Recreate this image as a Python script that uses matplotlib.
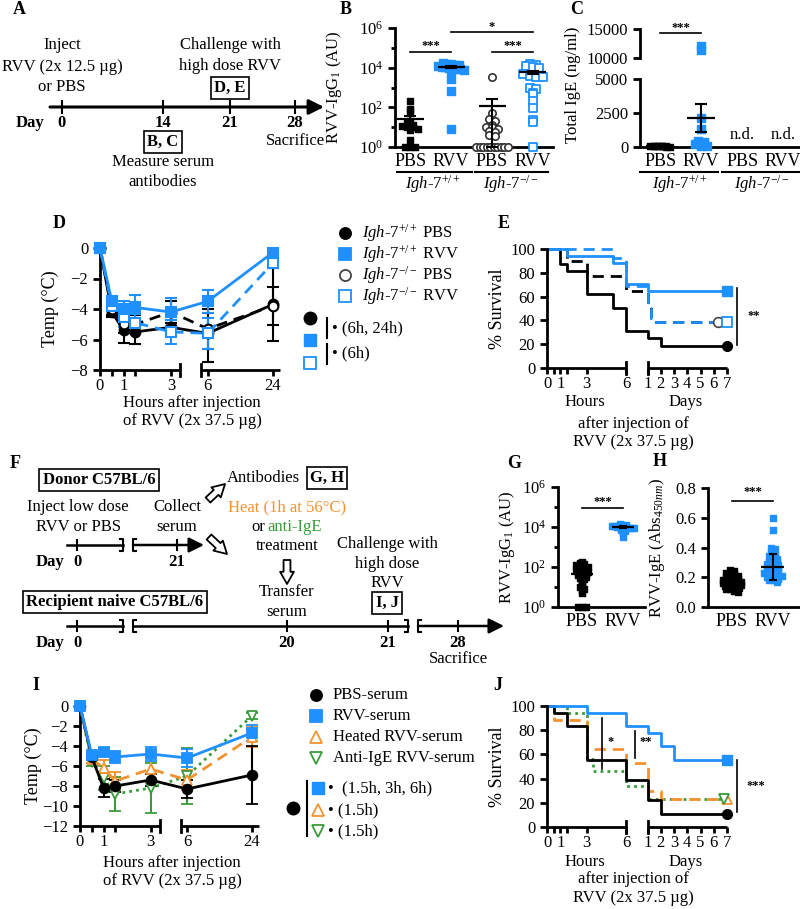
import numpy as np
import matplotlib
matplotlib.use('Agg')
import matplotlib.pyplot as plt

plt.rcParams['font.family'] = ['Liberation Serif', 'DejaVu Sans']
plt.rcParams['mathtext.fontset'] = 'custom'
plt.rcParams['mathtext.rm'] = 'Liberation Serif'
plt.rcParams['mathtext.it'] = 'Liberation Serif:italic'
plt.rcParams['mathtext.bf'] = 'Liberation Serif:bold'
plt.rcParams['font.size'] = 12
plt.rcParams['axes.linewidth'] = 2
plt.rcParams['xtick.major.width'] = 2
plt.rcParams['ytick.major.width'] = 2
plt.rcParams['xtick.major.size'] = 4
plt.rcParams['ytick.major.size'] = 5
plt.rcParams['ytick.minor.width'] = 2
plt.rcParams['ytick.minor.size'] = 3

BLUE = '#1E90FF'
ORANGE = '#F5922F'
GREEN = '#3A9B3A'
WT = r'$\mathit{Igh}$-$\mathit{7}^{+/+}$'
KO = r'$\mathit{Igh}$-$\mathit{7}^{-/-}$'

# ---------------- data ----------------
# B: RVV-IgG1 (AU)
b_groups = ['PBS', 'RVV', 'PBS', 'RVV']
b_wt_pbs = [200, 80, 65, 20, 16, 13, 12, 10, 10, 8, 7, 2.2, 1, 1, 1]
b_wt_rvv = [18000, 16000, 15000, 14000, 13000, 12000, 11000, 10500, 10000,
            9500, 9000, 8500, 8000, 7500, 2600, 630, 8]
b_ko_pbs = [3300, 54, 26, 20, 13, 10, 10, 8, 6.3, 5.6, 4, 3.5,
            1, 1, 1, 1, 1, 1, 1, 1, 1, 1]
b_ko_rvv = [16000, 14000, 12500, 11000, 10000, 5000, 4000, 3500, 3200, 900,
            800, 510, 480, 200, 90, 23, 18, 1]
b_mean = [25, 10700, 118, 5900]
b_sem = [11, 1000, 140, 1100]

# C: total IgE (ng/ml)
c_groups = ['PBS', 'RVV', 'PBS', 'RVV']
c_wt_pbs = [110, 100, 90, 80, 70, 60, 50, 40, 30, 20]
c_wt_rvv = [12100, 11400, 2100, 1300, 450, 380, 320, 260, 200, 150, 100, 60]
c_mean = [70, 2130]
c_sem = [10, 1000]

# D: temperature after challenge
hours = [0, 0.5, 1, 1.5, 3, 6, 24]
d_wt_pbs = [0, -4.2, -5.4, -5.5, -5.2, -5.6, -3.7]
d_wt_pbs_err = [0, 0.3, 0.8, 0.8, 0.5, 1.9, 2.4]
d_wt_rvv = [0, -3.5, -4.0, -3.9, -4.2, -3.5, -0.3]
d_wt_rvv_err = [0, 0.3, 0.5, 0.8, 0.9, 0.75, 0.2]
d_ko_pbs = [0, -4.0, -5.0, -5.0, -4.2, -5.3, -3.8]
d_ko_pbs_err = [0, 0.4, 0.6, 0.6, 0.7, 1.3, 1.25]
d_ko_rvv = [0, -3.8, -4.5, -4.9, -5.5, -5.6, -1.0]
d_ko_rvv_err = [0, 0.3, 0.7, 0.6, 0.8, 1.0, 0.3]

# E: survival (time in hours)
e_wt_pbs_t = [0, 1, 1.5, 3, 5, 6, 24, 48, 168]
e_wt_pbs_s = [100, 87.5, 81.25, 62.5, 50, 31.25, 25, 18.75, 18.75]
e_ko_pbs_t = [0, 1.5, 3, 6, 24, 30, 36, 151]
e_ko_pbs_s = [100, 90.3, 77.4, 64.5, 51.6, 41.9, 38.7, 38.7]
e_wt_rvv_t = [0, 1.5, 5, 6, 24, 168]
e_wt_rvv_s = [100, 94.1, 88.2, 70.6, 64.7, 64.7]
e_ko_rvv_t = [0, 5, 6, 24, 30, 36, 168]
e_ko_rvv_s = [100, 92.3, 69.2, 50, 42.3, 38.5, 38.5]

# G / H: donor serum antibodies
g_groups = ['PBS', 'RVV']
g_pbs = [180, 160, 140, 125, 110, 100, 100, 90, 80, 80, 70, 63, 63, 56, 50, 50,
         45, 40, 35, 32, 28, 25, 20, 16, 12, 10, 8, 6.3, 5, 1, 1, 1]
g_rvv = [14000, 12500, 12500, 11000, 11000, 10000, 10000, 10000, 10000, 9000,
         9000, 9000, 8000, 8000, 7000, 6300, 5000, 3200]
g_mean = [45, 10000]
g_sem = [15, 600]
h_pbs = [0.25, 0.24, 0.23, 0.22, 0.22, 0.21, 0.2, 0.2, 0.19, 0.19, 0.18, 0.18,
         0.18, 0.17, 0.17, 0.17, 0.16, 0.16, 0.16, 0.15, 0.15, 0.15, 0.14, 0.14,
         0.14, 0.13, 0.13, 0.12, 0.12, 0.11, 0.1]
h_rvv = [0.6, 0.52, 0.4, 0.39, 0.38, 0.36, 0.35, 0.34, 0.33, 0.32, 0.31, 0.3,
         0.3, 0.29, 0.29, 0.28, 0.28, 0.27, 0.27, 0.26, 0.26, 0.25, 0.25, 0.24,
         0.24, 0.23, 0.23, 0.22, 0.22, 0.21, 0.21, 0.2, 0.2, 0.19, 0.19, 0.18,
         0.18, 0.17]
h_mean = [0.165, 0.27]
h_err = [0.025, 0.088]

# I: temperature after serum transfer
i_pbs = [0, -5.1, -8.2, -8.0, -7.4, -8.3, -6.9]
i_pbs_err = [0, 0.3, 0.9, 0.6, 0.6, 0.9, 2.9]
i_rvv = [0, -4.9, -4.6, -5.1, -4.8, -5.2, -2.7]
i_rvv_err = [0, 0.3, 0.4, 0.6, 0.7, 0.9, 0.8]
i_heat = [0, -5.3, -6.2, -7.5, -6.3, -7.4, -3.1]
i_heat_err = [0, 0.4, 0.8, 0.9, 1.3, 1.0, 1.0]
i_anti = [0, -5.6, -7.2, -8.8, -8.2, -7.0, -1.0]
i_anti_err = [0, 0.4, 1.2, 1.7, 2.5, 2.8, 0.3]

# J: survival after serum transfer
j_pbs_t = [0, 0.5, 1.5, 3, 6, 24, 48, 168]
j_pbs_s = [100, 94.4, 83.3, 55.6, 38.9, 22.2, 11.1, 11.1]
j_rvv_t = [0, 3, 6, 24, 48, 72, 168]
j_rvv_s = [100, 94.4, 83.3, 77.8, 66.7, 55.6, 55.6]
j_heat_t = [0, 0.5, 3, 6, 24, 48, 168]
j_heat_s = [100, 88.2, 64.7, 52.9, 29.4, 23.5, 23.5]
j_anti_t = [0, 1.5, 3, 3.5, 6, 24, 163]
j_anti_s = [100, 94, 56, 46, 34, 23, 23]

# ---------------- helpers ----------------
W, H = 800, 909
fig = plt.figure(figsize=(8, 9.09), dpi=100)


def px_box(x0, y0, x1, y1):
    return [x0 / W, 1 - y1 / H, (x1 - x0) / W, (y1 - y0) / H]


def clean(ax):
    ax.spines['top'].set_visible(False)
    ax.spines['right'].set_visible(False)
    ax.tick_params(labelsize=12)


def dotplot(ax, vals, pos, logy, step, maxw, binw, **kw):
    v = np.asarray(vals, float)
    yv = np.log10(v) if logy else v
    bins = np.round(yv / binw)
    off = np.zeros(len(v))
    for b in np.unique(bins):
        idx = np.where(bins == b)[0]
        n = len(idx)
        w = min((n - 1) * step / 2, maxw)
        off[idx] = np.linspace(-w, w, n) if n > 1 else 0
    ax.scatter(pos + off, v, clip_on=False, zorder=3, **kw)


def mean_sem(ax, pos, mean, lo, hi, half, cap=4):
    ax.hlines(mean, pos - half, pos + half, color='k', lw=1.6, zorder=5, clip_on=False)
    ax.errorbar([pos], [mean], yerr=[[lo], [hi]], fmt='none', ecolor='k',
                elinewidth=1.5, capsize=cap, capthick=1.5, zorder=5, clip_on=False)


def sig(ax, x0, x1, y, s, dy):
    ax.plot([x0, x1], [y, y], color='k', lw=1.2, clip_on=False)
    ax.text((x0 + x1) / 2, dy, s, ha='center', va='center', fontsize=9,
            fontweight='bold', clip_on=False)


# piecewise time axes
temp_t_knots = [0, 3, 6, 30]
temp_u_knots = [0, 3, 4.55, 8.217]
surv_t_knots = [0, 6, 24, 240]
surv_u_knots = [0, 6, 7.6, 16.6]


def temp_fwd(t):
    return np.interp(t, temp_t_knots, temp_u_knots)


def temp_inv(u):
    return np.interp(u, temp_u_knots, temp_t_knots)


def surv_fwd(t):
    return np.interp(t, surv_t_knots, surv_u_knots)


def surv_inv(u):
    return np.interp(u, surv_u_knots, surv_t_knots)


def broken_bottom(ax, segs, bars):
    tr = ax.get_xaxis_transform()
    for a, b in segs:
        ax.plot([a, b], [0, 0], color='k', lw=2, transform=tr, clip_on=False,
                solid_capstyle='butt')
    for x in bars:
        ax.plot([x, x], [-0.05, 0.05], color='k', lw=2, transform=tr, clip_on=False)


# ---------------- B ----------------
axB = fig.add_axes(px_box(395, 28, 553, 147))
clean(axB)
axB.set_yscale('log')
axB.set_ylim(1, 1e6)
axB.set_xlim(-0.37, 3.49)
axB.set_yticks([1, 1e2, 1e4, 1e6])
axB.set_yticklabels([r'$10^{0}$', r'$10^{2}$', r'$10^{4}$', r'$10^{6}$'])
axB.set_yticks([10, 1e3, 1e5], minor=True)
axB.yaxis.set_minor_formatter(plt.NullFormatter())
axB.set_xticks(range(4))
axB.set_xticklabels(b_groups, fontsize=13)
axB.tick_params(axis='x', length=0, pad=4)
dotplot(axB, b_wt_pbs, 0, True, 0.13, 0.3, 0.2, marker='s', s=20, color='k')
dotplot(axB, b_wt_rvv, 1, True, 0.1, 0.32, 0.2, marker='s', s=30, color=BLUE)
dotplot(axB, b_ko_pbs, 2, True, 0.14, 0.38, 0.2, marker='o', s=28,
        facecolors='white', edgecolors='#333333', linewidths=1.2)
dotplot(axB, b_ko_rvv, 3, True, 0.16, 0.32, 0.2, marker='s', s=30,
        facecolors='white', edgecolors=BLUE, linewidths=1.3)
for k in range(4):
    lo = min(b_sem[k], b_mean[k] - 1.05)
    mean_sem(axB, k, b_mean[k], lo, b_sem[k], 0.33)
sig(axB, 0, 1, 6e4, '***', 1.2e5)
sig(axB, 2, 3, 6e4, '***', 1.2e5)
sig(axB, 1, 3, 6e5, '*', 1.1e6)
axB.set_ylabel(r'RVV-IgG$_1$ (AU)', fontsize=12)
axB.yaxis.set_label_coords(-0.32, 0.5)

# ---------------- C ----------------
axC = fig.add_axes(px_box(640, 79, 800, 147))
axC2 = fig.add_axes(px_box(640, 29, 800, 58))
clean(axC)
clean(axC2)
axC.set_ylim(0, 5000)
axC2.set_ylim(10000, 15000)
for a in (axC, axC2):
    a.set_xlim(-0.49, 3.41)
axC.set_yticks([0, 2500, 5000])
axC2.set_yticks([10000, 15000])
axC2.spines['bottom'].set_visible(False)
axC2.set_xticks([])
axC.set_xticks(range(4))
axC.set_xticklabels(c_groups, fontsize=13)
axC.tick_params(axis='x', length=0, pad=4)
lo_rvv = [v for v in c_wt_rvv if v <= 5000]
hi_rvv = [v for v in c_wt_rvv if v > 5000]
dotplot(axC, c_wt_pbs, 0, False, 0.1, 0.35, 150, marker='s', s=20, color='k')
dotplot(axC, lo_rvv, 1, False, 0.14, 0.35, 150, marker='s', s=30, color=BLUE)
dotplot(axC2, hi_rvv, 1, False, 0.2, 0.35, 300, marker='s', s=30, color=BLUE)
for k in range(2):
    mean_sem(axC, k, c_mean[k], c_sem[k], c_sem[k], 0.34)
for k in (2, 3):
    axC.text(k, 300, 'n.d.', ha='center', va='bottom', fontsize=12)
sig(axC2, 0, 1, 14300, '***', 15200)
fig.text(573 / W, 1 - 85 / H, 'Total IgE (ng/ml)', rotation=90, ha='center',
         va='center', fontsize=12)

# ---------------- D ----------------
axD = fig.add_axes(px_box(100, 248, 280, 370))
clean(axD)
axD.set_xscale('function', functions=(temp_fwd, temp_inv))
axD.set_xlim(0, 26)
axD.set_ylim(-8, 0)
axD.set_yticks([0, -2, -4, -6, -8])
axD.set_xticks(hours)
axD.set_xticklabels(['0', '', '1', '', '3', '6', '24'])
axD.tick_params(axis='x', pad=1.5)
axD.spines['bottom'].set_visible(False)
broken_bottom(axD, [(0, 3.75), (5.45, 26)], [3.75, 5.45])
d_series = [
    (d_wt_pbs, d_wt_pbs_err, 'k', 'o', 'k', '-'),
    (d_ko_pbs, d_ko_pbs_err, 'k', 'o', 'white', (0, (4, 2.5))),
    (d_ko_rvv, d_ko_rvv_err, BLUE, 's', 'white', (0, (4, 2.5))),
    (d_wt_rvv, d_wt_rvv_err, BLUE, 's', BLUE, '-'),
]
for y, e, c, m, fc, ls in d_series:
    axD.errorbar(hours, y, yerr=e, color=c, ecolor=c, marker=m, ms=7, mfc=fc,
                 mec=c, mew=1.5, ls=ls, lw=2, elinewidth=1.5, capsize=4,
                 capthick=1.5, clip_on=False, zorder=3)
axD.set_ylabel('Temp (°C)', fontsize=13)
axD.yaxis.set_label_coords(-0.23, 0.5)

# ---------------- E ----------------
def surv_axes(box):
    ax = fig.add_axes(px_box(*box))
    clean(ax)
    ax.set_xscale('function', functions=(surv_fwd, surv_inv))
    ax.set_xlim(0, 168)
    ax.set_ylim(0, 100)
    ax.set_yticks([0, 20, 40, 60, 80, 100])
    ax.set_xticks([0, 0.5, 1, 1.5, 3, 6, 24, 48, 72, 96, 120, 144, 168])
    ax.set_xticklabels(['0', '', '1', '', '3', '6', '1', '2', '3', '4', '5', '6', '7'])
    ax.tick_params(axis='x', pad=2)
    ax.spines['bottom'].set_visible(False)
    broken_bottom(ax, [(0, 6), (24, 168)], [6, 24])
    ax.set_ylabel('% Survival', fontsize=13)
    ax.yaxis.set_label_coords(-0.23, 0.5)
    return ax


axE = surv_axes((547, 249, 727, 368))
axE.step(e_wt_pbs_t, e_wt_pbs_s, where='post', color='k', lw=2, clip_on=False)
axE.step(e_ko_pbs_t, e_ko_pbs_s, where='post', color='k', lw=2, ls=(0, (4, 2.5)), clip_on=False)
axE.step(e_wt_rvv_t, e_wt_rvv_s, where='post', color=BLUE, lw=2, clip_on=False)
axE.step(e_ko_rvv_t, e_ko_rvv_s, where='post', color=BLUE, lw=2, ls=(0, (4, 2.5)), clip_on=False)
axE.plot(e_wt_pbs_t[-1], e_wt_pbs_s[-1], 'o', color='k', ms=7, clip_on=False)
axE.plot(e_ko_pbs_t[-1], e_ko_pbs_s[-1], 'o', mfc='white', mec='#444444', ms=7, mew=1.2, clip_on=False)
axE.plot(e_wt_rvv_t[-1], e_wt_rvv_s[-1], 's', color=BLUE, ms=7, clip_on=False)
axE.plot(e_ko_rvv_t[-1], e_ko_rvv_s[-1], 's', mfc='white', mec=BLUE, ms=7, mew=1.3, clip_on=False)
axE.plot([187, 187], [67, 19], color='k', lw=1.2, clip_on=False)
axE.text(205, 44, '**', ha='left', va='center', fontsize=9, fontweight='bold', clip_on=False)

# ---------------- G ----------------
axG = fig.add_axes(px_box(558, 487, 645, 607))
clean(axG)
axG.set_yscale('log')
axG.set_ylim(1, 1e6)
axG.set_xlim(-0.585, 1.537)
axG.set_yticks([1, 1e2, 1e4, 1e6])
axG.set_yticklabels([r'$10^{0}$', r'$10^{2}$', r'$10^{4}$', r'$10^{6}$'])
axG.set_yticks([10, 1e3, 1e5], minor=True)
axG.yaxis.set_minor_formatter(plt.NullFormatter())
axG.set_xticks([0, 1])
axG.set_xticklabels(g_groups, fontsize=13)
axG.tick_params(axis='x', length=0, pad=4)
dotplot(axG, g_pbs, 0, True, 0.1, 0.3, 0.12, marker='s', s=18, color='k')
dotplot(axG, g_rvv, 1, True, 0.08, 0.28, 0.1, marker='s', s=22, color=BLUE)
for k in range(2):
    mean_sem(axG, k, g_mean[k], g_sem[k], g_sem[k], 0.26, cap=3)
sig(axG, 0, 1, 9e4, '***', 1.8e5)
axG.set_ylabel(r'RVV-IgG$_1$ (AU)', fontsize=12)
axG.yaxis.set_label_coords(-0.47, 0.5)

# ---------------- H ----------------
axH = fig.add_axes(px_box(708, 488, 800, 607))
clean(axH)
axH.set_ylim(0, 0.8)
axH.set_xlim(-0.585, 1.66)
axH.set_yticks([0, 0.2, 0.4, 0.6, 0.8])
axH.set_yticklabels(['0.0', '0.2', '0.4', '0.6', '0.8'])
axH.set_xticks([0, 1])
axH.set_xticklabels(g_groups, fontsize=13)
axH.tick_params(axis='x', length=0, pad=4)
dotplot(axH, h_pbs, 0, False, 0.09, 0.36, 0.022, marker='s', s=18, color='k')
dotplot(axH, h_rvv, 1, False, 0.09, 0.36, 0.022, marker='s', s=24, color=BLUE)
for k in range(2):
    mean_sem(axH, k, h_mean[k], h_err[k], h_err[k], 0.28, cap=3)
sig(axH, 0, 1, 0.71, '***', 0.77)
axH.set_ylabel(r'RVV-IgE (Abs$_{450nm}$)', fontsize=12)
axH.yaxis.set_label_coords(-0.45, 0.5)

# ---------------- I ----------------
axI = fig.add_axes(px_box(80, 706, 259, 826))
clean(axI)
axI.set_xscale('function', functions=(temp_fwd, temp_inv))
axI.set_xlim(0, 26)
axI.set_ylim(-12, 0)
axI.set_yticks([0, -2, -4, -6, -8, -10, -12])
axI.set_xticks(hours)
axI.set_xticklabels(['0', '', '1', '', '3', '6', '24'])
axI.tick_params(axis='x', pad=1.5)
axI.spines['bottom'].set_visible(False)
broken_bottom(axI, [(0, 3.8), (5.5, 26)], [3.8, 5.5])
i_series = [
    (i_anti, i_anti_err, GREEN, 'v', 'white', (0, (1, 1.5))),
    (i_heat, i_heat_err, ORANGE, '^', 'white', (0, (4, 2.5))),
    (i_pbs, i_pbs_err, 'k', 'o', 'k', '-'),
    (i_rvv, i_rvv_err, BLUE, 's', BLUE, '-'),
]
for y, e, c, m, fc, ls in i_series:
    axI.errorbar(hours, y, yerr=e, color=c, ecolor=c, marker=m, ms=7, mfc=fc,
                 mec=c, mew=1.3, ls=ls, lw=2, elinewidth=1.5, capsize=4,
                 capthick=1.5, clip_on=False, zorder=3)
axI.set_ylabel('Temp (°C)', fontsize=13)
axI.yaxis.set_label_coords(-0.21, 0.5)

# ---------------- J ----------------
axJ = surv_axes((547, 706, 727, 827))
axJ.step(j_anti_t, j_anti_s, where='post', color=GREEN, lw=2, ls=(0, (1, 1.5)), clip_on=False)
axJ.step(j_heat_t, j_heat_s, where='post', color=ORANGE, lw=2, ls=(0, (4, 2.5)), clip_on=False)
axJ.step(j_pbs_t, j_pbs_s, where='post', color='k', lw=2, clip_on=False)
axJ.step(j_rvv_t, j_rvv_s, where='post', color=BLUE, lw=2, clip_on=False)
axJ.plot(j_pbs_t[-1], j_pbs_s[-1], 'o', color='k', ms=7, clip_on=False)
axJ.plot(j_rvv_t[-1], j_rvv_s[-1], 's', color=BLUE, ms=7, clip_on=False)
axJ.plot(j_heat_t[-1], j_heat_s[-1], '^', mfc='white', mec=ORANGE, ms=7, mew=1.3, clip_on=False)
axJ.plot(j_anti_t[-1], j_anti_s[-1], 'v', mfc='white', mec=GREEN, ms=7, mew=1.3, clip_on=False)
axJ.plot([4.15, 4.15], [90, 48], color='k', lw=1.2, clip_on=False)
axJ.text(4.6, 70, '*', ha='left', va='center', fontsize=9, fontweight='bold')
axJ.plot([13.3, 13.3], [79, 57], color='k', lw=1.2, clip_on=False)
axJ.text(17, 70, '**', ha='left', va='center', fontsize=9, fontweight='bold')
axJ.plot([186, 186], [55, 12], color='k', lw=1.2, clip_on=False)
axJ.text(203, 34, '***', ha='left', va='center', fontsize=9, fontweight='bold', clip_on=False)

# ---------------- overlay: schemes, legends, labels ----------------
ov = fig.add_axes([0, 0, 1, 1])
ov.set_xlim(0, W)
ov.set_ylim(H, 0)
ov.axis('off')


def txt(x, y, s, **kw):
    kw.setdefault('ha', 'center')
    kw.setdefault('va', 'center')
    kw.setdefault('fontsize', 12)
    ov.text(x, y, s, **kw)


def boxed(x, y, s):
    txt(x, y, s, fontweight='bold',
        bbox=dict(boxstyle='square,pad=0.2', fc='white', ec='black', lw=1.2))


def hollow_arrow(x0, y0, x1, y1):
    ov.annotate('', xy=(x1, y1), xytext=(x0, y0),
                arrowprops=dict(arrowstyle='simple,head_length=0.8,head_width=0.9,tail_width=0.45',
                                fc='white', ec='black', lw=1.3, shrinkA=0, shrinkB=0,
                                mutation_scale=11))


def line_arrow(x0, x1, y, lw):
    ov.annotate('', xy=(x1, y), xytext=(x0, y),
                arrowprops=dict(arrowstyle='-|>,head_length=0.6,head_width=0.3', lw=lw,
                                color='k', shrinkA=0, shrinkB=0, mutation_scale=15))


def brk(x, y, side):
    d = 3 * side
    ov.plot([x - d, x, x, x - d], [y - 6, y - 6, y + 6, y + 6], color='k', lw=1.5)


# panel letters
for lab, x, y in [('A', 13, 10), ('B', 340, 10), ('C', 570, 10), ('D', 53, 223),
                  ('E', 498, 223), ('F', 10, 463), ('G', 507, 463), ('H', 653, 462),
                  ('I', 32, 685), ('J', 493, 685)]:
    txt(x, y, lab, fontweight='bold', fontsize=13, ha='left')

# A timeline
a_tick_x = [62, 163, 230, 295]
a_days = ['0', '14', '21', '28']
line_arrow(50, 324, 107, 2.2)
for x, d in zip(a_tick_x, a_days):
    ov.plot([x, x], [101, 113], color='k', lw=1.5)
    txt(x, 123, d, fontweight='bold')
txt(30, 123, 'Day', fontweight='bold')
txt(62, 45, 'Inject')
txt(62, 67, 'RVV (2x 12.5 µg)')
txt(62, 87, 'or PBS')
txt(230, 45, 'Challenge with')
txt(230, 66, 'high dose RVV')
boxed(230, 88, 'D, E')
boxed(163, 142, 'B, C')
txt(163, 162, 'Measure serum')
txt(163, 182, 'antibodies')
txt(295, 141, 'Sacrifice')

# B / C group underlines
for x0, x1, xc, lab in [(397, 472, 433, WT), (475, 548, 511, KO),
                        (640, 718, 680, WT), (722, 800, 762, KO)]:
    ov.plot([x0, x1], [172, 172], color='k', lw=1.5)
    txt(xc, 184, lab)

# D legend
d_leg = [('o', 'k', 'k', WT + ' PBS'), ('s', BLUE, BLUE, WT + ' RVV'),
         ('o', 'white', '#444444', KO + ' PBS'), ('s', 'white', BLUE, KO + ' RVV')]
for k, (m, fc, ec, lab) in enumerate(d_leg):
    y = 233 + 21 * k
    ov.plot(345, y, marker=m, ms=8, mfc=fc, mec=ec, mew=1.3)
    txt(362, y, lab, ha='left')
ov.plot(310, 318, 'o', ms=9, color='k')
ov.plot(310, 340, 's', ms=9, color=BLUE)
ov.plot(310, 363, 's', ms=9, mfc='white', mec=BLUE, mew=1.3)
ov.plot([327, 327], [318, 338], color='k', lw=1.5)
ov.plot([327, 327], [344, 364], color='k', lw=1.5)
txt(332, 328, '• (6h, 24h)', ha='left', fontsize=12)
txt(332, 353, '• (6h)', ha='left', fontsize=12)
txt(192, 403, 'Hours after injection')
txt(192, 421, 'of RVV (2x 37.5 µg)')

# E labels
txt(585, 402, 'Hours')
txt(686, 402, 'Days')
txt(633, 424, 'after injection of')
txt(633, 442, 'RVV (2x 37.5 µg)')

# F scheme
boxed(99, 480, 'Donor C57BL/6')
txt(78, 507, 'Inject low dose')
txt(78, 527, 'RVV or PBS')
txt(177, 507, 'Collect')
txt(177, 527, 'serum')
ov.plot([67, 123], [545, 545], color='k', lw=1.8)
brk(123, 545, 1)
brk(133, 545, -1)
line_arrow(133, 204, 545, 1.8)
f_top_x = [77, 177]
f_top_days = ['0', '21']
for x, d in zip(f_top_x, f_top_days):
    ov.plot([x, x], [540, 550], color='k', lw=1.5)
    txt(x, 562, d, fontweight='bold')
txt(50, 562, 'Day', fontweight='bold')
hollow_arrow(208, 500, 225, 484)
hollow_arrow(209, 537, 227, 554)
hollow_arrow(287, 560, 287, 584)
txt(263, 478, 'Antibodies')
boxed(327, 478, 'G, H')
txt(287, 507, 'Heat (1h at 56°C)', color=ORANGE)
txt(251, 527, 'or', ha='left')
txt(267, 527, 'anti-IgE', ha='left', color=GREEN)
txt(287, 546, 'treatment')
txt(287, 592, 'Transfer')
txt(287, 612, 'serum')
txt(387, 544, 'Challenge with')
txt(387, 564, 'high dose')
txt(387, 583, 'RVV')
boxed(387, 603, 'I, J')
boxed(115, 602, 'Recipient naive C57BL/6')
ov.plot([67, 123], [626, 626], color='k', lw=1.8)
brk(123, 626, 1)
brk(133, 626, -1)
ov.plot([133, 408], [626, 626], color='k', lw=1.8)
brk(408, 626, 1)
brk(418, 626, -1)
line_arrow(418, 504, 626, 1.8)
f_bot_x = [77, 287, 388, 458]
f_bot_days = ['0', '20', '21', '28']
for x, d in zip(f_bot_x, f_bot_days):
    ov.plot([x, x], [621, 631], color='k', lw=1.5)
    txt(x, 643, d, fontweight='bold')
txt(50, 643, 'Day', fontweight='bold')
txt(458, 659, 'Sacrifice')

# I legend
i_leg = [('o', 'k', 'k', 'PBS-serum'), ('s', BLUE, BLUE, 'RVV-serum'),
         ('^', 'white', ORANGE, 'Heated RVV-serum'), ('v', 'white', GREEN, 'Anti-IgE RVV-serum')]
for k, (m, fc, ec, lab) in enumerate(i_leg):
    y = 695 + 21 * k
    ov.plot(316, y, marker=m, ms=8, mfc=fc, mec=ec, mew=1.3)
    txt(333, y, lab, ha='left')
ov.plot(293, 808, 'o', ms=9, color='k')
ov.plot([307, 307], [781, 836], color='k', lw=1.5)
ov.plot(318, 788, 's', ms=8, color=BLUE)
ov.plot(318, 810, '^', ms=8, mfc='white', mec=ORANGE, mew=1.3)
ov.plot(318, 831, 'v', ms=8, mfc='white', mec=GREEN, mew=1.3)
txt(328, 788, '•  (1.5h, 3h, 6h)', ha='left')
txt(328, 810, '• (1.5h)', ha='left')
txt(328, 831, '• (1.5h)', ha='left')
txt(172, 863, 'Hours after injection')
txt(172, 881, 'of RVV (2x 37.5 µg)')

# J labels
txt(585, 862, 'Hours')
txt(686, 862, 'Days')
txt(633, 879, 'after injection of')
txt(633, 898, 'RVV (2x 37.5 µg)')

fig.savefig('out.png', dpi=100)
